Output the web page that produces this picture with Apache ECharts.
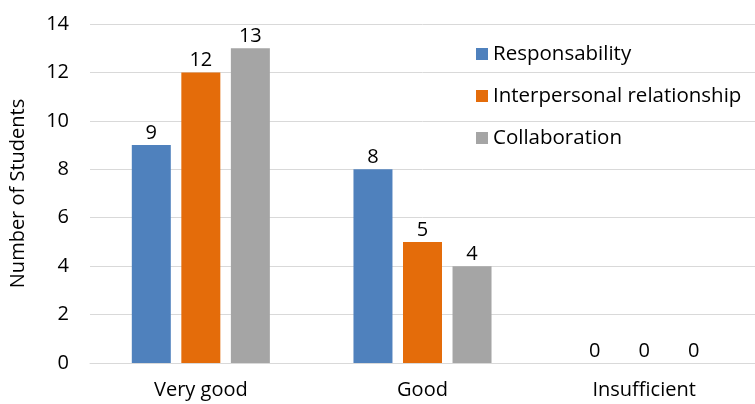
<!DOCTYPE html>
<html><head><meta charset="utf-8">
<script src="https://cdn.jsdelivr.net/npm/echarts@6/dist/echarts.min.js"></script>
<style>html,body{margin:0;padding:0;background:#fff}#c{width:755px;height:404px}</style>
</head><body><div id="c"></div>
<script>
const categories = ['Very good', 'Good', 'Insufficient'];
const responsability = [9, 8, 0];
const interpersonal = [12, 5, 0];
const collaboration = [13, 4, 0];
const seriesNames = ['Responsability', 'Interpersonal relationship', 'Collaboration'];
const colors = ['#4F81BD', '#E46C0A', '#A5A5A5'];
const yTicks = { min: 0, max: 14, interval: 2 };

const font = "'Open Sans', 'Noto Sans', sans-serif";
const chart = echarts.init(document.getElementById('c'), null, { renderer: 'canvas' });
const mk = (name, data, i) => ({
  name, type: 'bar', data,
  barWidth: 39, barGap: '27%',
  itemStyle: { color: colors[i] },
  label: { show: true, position: 'top', distance: 2, color: '#000', fontSize: 20, fontFamily: font }
});
chart.setOption({
  animation: false,
  textStyle: { fontFamily: font },
  grid: { left: 86, width: 675, top: 24, bottom: 41, containLabel: false },
  legend: {
    orient: 'vertical', left: 476, top: 43, padding: 0,
    itemWidth: 12, itemHeight: 12, itemGap: 20,
    icon: 'rect',
    textStyle: { fontSize: 20.5, color: '#000', fontFamily: font, lineHeight: 22 },
    data: seriesNames
  },
  xAxis: {
    type: 'category', data: categories,
    axisLine: { show: true, lineStyle: { color: '#d9d9d9', width: 1 } },
    axisTick: { show: false },
    axisLabel: { fontSize: 20, color: '#000', margin: 17, fontFamily: font }
  },
  yAxis: {
    type: 'value', min: yTicks.min, max: yTicks.max, interval: yTicks.interval,
    name: 'Number of Students', nameLocation: 'middle', nameGap: 62,
    nameTextStyle: { fontSize: 20, color: '#000', fontFamily: font },
    axisLine: { show: false }, axisTick: { show: false },
    axisLabel: { fontSize: 20, color: '#000', margin: 21, fontFamily: font },
    splitLine: { lineStyle: { color: '#d9d9d9', width: 1 } }
  },
  series: [
    mk(seriesNames[0], responsability, 0),
    mk(seriesNames[1], interpersonal, 1),
    mk(seriesNames[2], collaboration, 2)
  ]
});
</script></body></html>
